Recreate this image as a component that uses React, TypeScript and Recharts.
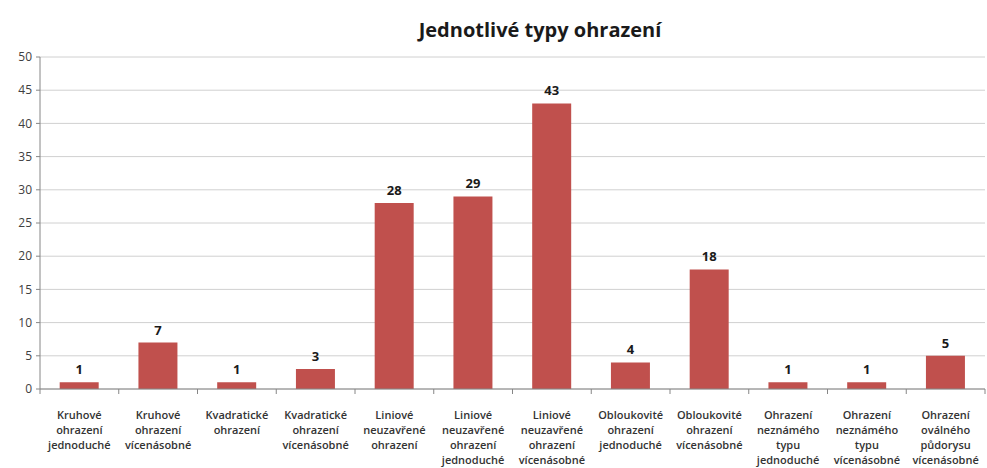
import React from "react";
import { BarChart, Bar, XAxis, YAxis, CartesianGrid, LabelList } from "recharts";

const categories = [
  "Kruhové ohrazení jednoduché",
  "Kruhové ohrazení vícenásobné",
  "Kvadratické ohrazení",
  "Kvadratické ohrazení vícenásobné",
  "Liniové neuzavřené ohrazení",
  "Liniové neuzavřené ohrazení jednoduché",
  "Liniové neuzavřené ohrazení vícenásobné",
  "Obloukovité ohrazení jednoduché",
  "Obloukovité ohrazení vícenásobné",
  "Ohrazení neznámého typu jednoduché",
  "Ohrazení neznámého typu vícenásobné",
  "Ohrazení oválného půdorysu vícenásobné",
];
const values = [1, 7, 1, 3, 28, 29, 43, 4, 18, 1, 1, 5];
const yTicks = [0, 5, 10, 15, 20, 25, 30, 35, 40, 45, 50];
const title = "Jednotlivé typy ohrazení";

const data = categories.map((c, i) => ({ name: c, value: values[i] }));

const W = 987;
const H = 468;
const M = { top: 57, right: 2, bottom: 0, left: 0 };
const X_H = 79;
const Y_W = 40;
const FONT = "'Open Sans', 'Noto Sans', sans-serif";

const XTick = (props: any) => {
  const { x, y, payload, index } = props;
  const band = (W - M.left - M.right - Y_W) / categories.length;
  const words = String(payload.value).split(" ");
  return (
    <g>
      <line x1={x + band / 2} y1={y - 8} x2={x + band / 2} y2={y - 3} stroke="#868686" />
      {index === 0 && <line x1={x - band / 2} y1={y - 8} x2={x - band / 2} y2={y - 3} stroke="#868686" />}
      <text x={x} y={y + 22} textAnchor="middle" fontFamily={FONT} fontSize={11} fontWeight={600} fill="#333333">
        {words.map((w: string, i: number) => (
          <tspan key={i} x={x} dy={i === 0 ? 0 : 15}>
            {w}
          </tspan>
        ))}
      </text>
    </g>
  );
};

export default function App() {
  return (
    <div style={{ position: "absolute", left: 0, top: 0, width: W, height: H, background: "#fff" }}>
      <BarChart width={W} height={H} data={data} margin={M} barCategoryGap="25%">
        <text x={540} y={37} textAnchor="middle" fontFamily={FONT} fontSize={20} fontWeight={700} fill="#1a1a1a">
          {title}
        </text>
        <CartesianGrid vertical={false} stroke="#d0d0d0" />
        <XAxis
          dataKey="name"
          interval={0}
          tick={<XTick />}
          tickLine={false}
          axisLine={{ stroke: "#868686" }}
          height={X_H}
        />
        <YAxis
          width={Y_W}
          domain={[0, 50]}
          ticks={yTicks}
          interval={0}
          tickSize={4}
          tickMargin={4}
          tickLine={{ stroke: "#868686" }}
          axisLine={{ stroke: "#868686" }}
          tick={{ fontFamily: FONT, fontSize: 12, fill: "#404040" }}
        />
        <Bar dataKey="value" fill="#c0504d" isAnimationActive={false}>
          <LabelList
            dataKey="value"
            position="top"
            offset={8}
            style={{ fontFamily: FONT, fontSize: 13, fontWeight: 700, fill: "#1a1a1a" }}
          />
        </Bar>
      </BarChart>
    </div>
  );
}
